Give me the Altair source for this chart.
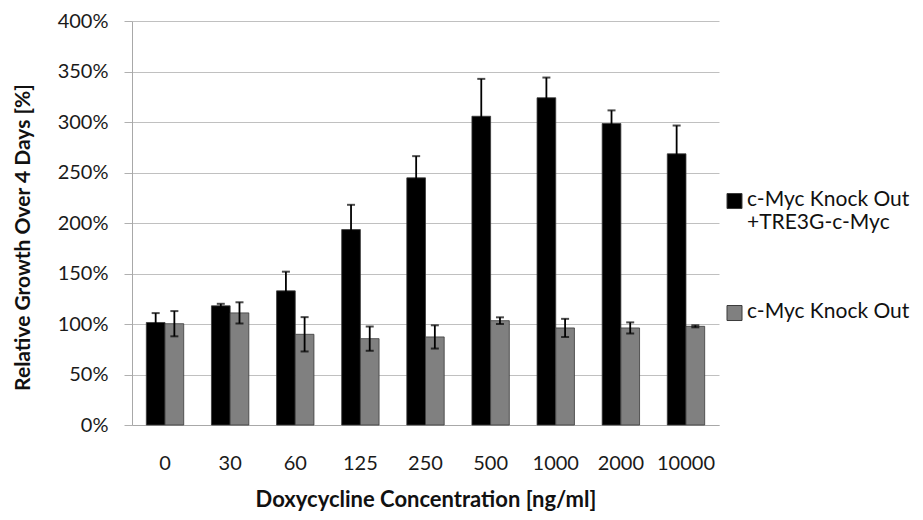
import altair as alt
import pandas as pd

conc = ["0", "30", "60", "125", "250", "500", "1000", "2000", "10000"]
series_names = ["c-Myc Knock Out +TRE3G-c-Myc", "c-Myc Knock Out"]
ko_tre = [101.5, 118, 132.8, 193.5, 244.7, 305.7, 324, 298.5, 268.5]
ko_tre_err = [9.3, 2, 19, 24.5, 21.5, 37, 20, 13, 28]
ko = [100.3, 111, 89.8, 85.5, 87.2, 103.3, 96.1, 96.1, 97.7]
ko_err = [12.5, 10.5, 17, 12, 11.5, 3.3, 9, 5.5, 1]

rows = []
for i, c in enumerate(conc):
    for s, vals, errs in [(series_names[0], ko_tre, ko_tre_err), (series_names[1], ko, ko_err)]:
        rows.append({"conc": c, "series": s, "value": vals[i] / 100,
                     "lo": (vals[i] - errs[i]) / 100, "hi": (vals[i] + errs[i]) / 100})
df = pd.DataFrame(rows)

FONT = "Lato"

x = alt.X("conc:N", sort=conc, title="Doxycycline Concentration [ng/ml]",
          scale=alt.Scale(paddingInner=0.426, paddingOuter=0.22),
          axis=alt.Axis(labelAngle=0, labelFontSize=20, labelPadding=28, ticks=False,
                        titleFontSize=22, titleFontWeight="bold", titlePadding=16,
                        domainColor="#a8a8a8", labelColor="#1a1a1a", titleColor="#111"))
xoff = alt.XOffset("series:N", sort=series_names)

bars = alt.Chart(df).mark_bar(stroke="#3a3a3a", strokeWidth=0.8).encode(
    x=x, xOffset=xoff,
    y=alt.Y("value:Q", title="Relative Growth Over 4 Days [%]",
            scale=alt.Scale(domain=[0, 4], nice=False),
            axis=alt.Axis(format=".0%", values=[0, 0.5, 1, 1.5, 2, 2.5, 3, 3.5, 4],
                          labelFontSize=20, labelPadding=16, tickSize=8, tickColor="#b0b0b0",
                          gridColor="#c0c0c0", domainColor="#a8a8a8",
                          titleFontSize=21, titleFontWeight="bold", titlePadding=24,
                          titleY=216,
                          labelColor="#1a1a1a", titleColor="#111")),
    color=alt.Color("series:N", sort=series_names,
                    scale=alt.Scale(domain=series_names, range=["#000000", "#808080"]),
                    legend=alt.Legend(title=None, labelFontSize=21,
                                      symbolType="M-1,0.67H1V2.67H-1Z",
                                      symbolSize=225, symbolStrokeColor="#3a3a3a",
                                      symbolStrokeWidth=1, labelFont=FONT, labelColor="#111",
                                      labelExpr="datum.label == 'c-Myc Knock Out +TRE3G-c-Myc' ? ['c-Myc Knock Out', '+TRE3G-c-Myc'] : datum.label",
                                      labelBaseline="top", labelOffset=2,
                                      rowPadding=57, orient="none",
                                      legendX=592, legendY=157, labelLimit=300)),
)

rules = alt.Chart(df).mark_rule(color="#000000", strokeWidth=1.8).encode(
    x=x, xOffset=xoff, y="lo:Q", y2="hi:Q")
caps_hi = alt.Chart(df).mark_tick(color="#000000", thickness=2, size=8).encode(
    x=x, xOffset=xoff, y="hi:Q")
caps_lo = alt.Chart(df).mark_tick(color="#000000", thickness=2, size=8).encode(
    x=x, xOffset=xoff, y="lo:Q")

chart = alt.layer(bars, rules, caps_hi, caps_lo).properties(
    width=587, height=404,
    autosize=alt.AutoSizeParams(type="none"),
    padding={"left": 124, "top": 13, "right": 196, "bottom": 87}
).configure(font=FONT).configure_view(stroke=None).configure_axis(labelFont=FONT, titleFont=FONT)

chart.save("out.html", embed_options={"renderer": "svg", "actions": False})
